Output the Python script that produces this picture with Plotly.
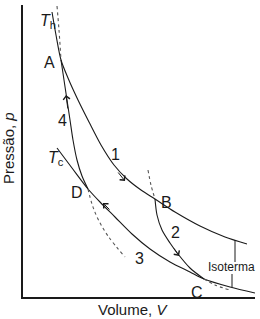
import plotly.graph_objects as go

# Values (arbitrary units: V along x, p along y)
hot_V = [29, 33, 38, 45, 55, 66, 78, 91, 104, 118, 132, 152, 177, 202, 224]
hot_p = [285, 262, 237, 219, 197, 175, 152, 132, 118, 107, 98, 85, 71, 60, 53]

cold_V = [34, 49, 65, 77, 92, 109, 127, 147, 167, 181, 207, 232]
cold_p = [149, 129, 108, 95, 80, 63, 48, 35, 25, 18, 10, 4]

ad4_V = [38, 41, 44, 47, 50, 54, 59, 65]
ad4_p = [237, 217, 197, 177, 157, 137, 121, 108]

ad2_V = [132, 134, 139, 147, 155, 167, 181]
ad2_p = [98, 82, 67, 54, 43, 29, 18]

dotA_V = [34, 36, 38]
dotA_p = [291, 267, 237]
dotD_V = [65, 69, 75, 85, 102]
dotD_p = [108, 93, 78, 61, 40]
dotB_V = [125, 128, 132]
dotB_p = [127, 112, 98]
dotC_V = [181, 192, 207]
dotC_p = [18, 12, 7]

# point labels: text, V, p
labels = ["<i>T</i><sub>h</sub>", "A", "4", "1", "<i>T</i><sub>c</sub>", "D", "B", "2", "3", "C"]
label_V = [25, 26, 39, 92, 33, 54, 143, 152, 116, 174]
label_p = [276, 235, 177, 143, 139, 105, 95, 65, 39, 5]

# arrows: tip (V, p) and tail (V, p)
arrow_tip_V = [102, 156, 80, 43]
arrow_tip_p = [116, 41, 94, 202]
arrow_tail_V = [94, 150, 88, 45]
arrow_tail_p = [126, 50, 86, 187]

# isotherm bracket
bracket_V = [212, 209]
bracket_p0 = [57, 23]
bracket_p1 = [35, 10]

ink = "#1a1a1a"
font = "Liberation Sans, Arial, sans-serif"

fig = go.Figure()
for V, p in [(hot_V, hot_p), (cold_V, cold_p), (ad4_V, ad4_p), (ad2_V, ad2_p)]:
    fig.add_trace(go.Scatter(x=V, y=p, mode="lines", line=dict(color=ink, width=1.1, shape="spline", smoothing=0.8),
                             hoverinfo="skip", showlegend=False))
for V, p in [(dotA_V, dotA_p), (dotD_V, dotD_p), (dotB_V, dotB_p), (dotC_V, dotC_p)]:
    fig.add_trace(go.Scatter(x=V, y=p, mode="lines", line=dict(color="#555", width=1.1, dash="dot", shape="spline"),
                             hoverinfo="skip", showlegend=False))

for t, x, y in zip(labels, label_V, label_p):
    fig.add_annotation(x=x, y=y, text=t, showarrow=False, font=dict(family=font, size=16, color=ink))

fig.add_annotation(x=208, y=30, text="Isoterma", showarrow=False, font=dict(family=font, size=12, color=ink))

for tx, ty, ax, ay in zip(arrow_tip_V, arrow_tip_p, arrow_tail_V, arrow_tail_p):
    fig.add_annotation(x=tx, y=ty, ax=ax, ay=ay, xref="x", yref="y", axref="x", ayref="y", text="",
                       showarrow=True, arrowhead=4, arrowsize=1.3, arrowwidth=1, arrowcolor=ink)

for bx, b0, b1 in zip(bracket_V, bracket_p0, bracket_p1):
    fig.add_shape(type="line", x0=bx, x1=bx, y0=b0, y1=b1, line=dict(color=ink, width=1))

fig.add_annotation(x=(8 - 23) / 232, y=(297 - 148) / 292, xref="paper", yref="paper", text="Pressão, <i>p</i>",
                   textangle=-90, showarrow=False, xanchor="center", yanchor="middle",
                   font=dict(family=font, size=15, color=ink))
fig.add_annotation(x=(133 - 23) / 232, y=(297 - 309) / 292, xref="paper", yref="paper", text="Volume, <i>V</i>",
                   showarrow=False, xanchor="center", yanchor="middle",
                   font=dict(family=font, size=15, color=ink))

fig.update_xaxes(range=[0, 232], showgrid=False, zeroline=False, showticklabels=False, ticks="",
                 showline=True, linecolor=ink, linewidth=2)
fig.update_yaxes(range=[0, 292], showgrid=False, zeroline=False, showticklabels=False, ticks="",
                 showline=True, linecolor=ink, linewidth=1.5)
fig.update_layout(width=260, height=319, margin=dict(l=23, r=5, t=5, b=22),
                  paper_bgcolor="white", plot_bgcolor="white")

fig.write_html("out.html")
